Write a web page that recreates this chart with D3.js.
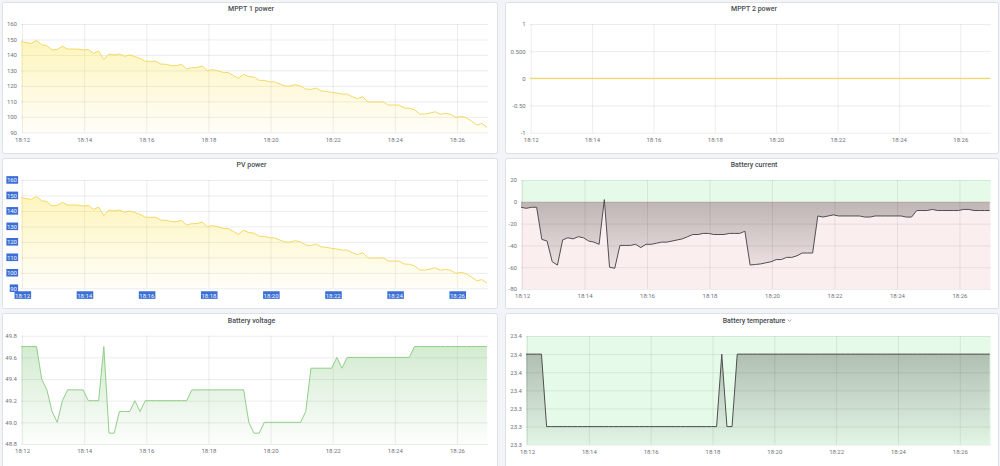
<!DOCTYPE html>
<html><head><meta charset="utf-8">
<script src="https://cdnjs.cloudflare.com/ajax/libs/d3/7.8.5/d3.min.js"></script>
<style>
html,body{margin:0;padding:0;background:#f3f4f7;}
svg{display:block;font-family:Roboto,"Noto Sans",sans-serif;}
</style></head><body>
<svg id="c" width="1000" height="466"></svg>
<script>
// ---------- DATA ----------
const xTickLabels = ["18:12","18:14","18:16","18:18","18:20","18:22","18:24","18:26"];
const sampleStartSec = -2;   // first sample relative to 18:12:00
const sampleStepSec = 10;

const mppt1Power = [148.6,148,147.5,149.4,146.6,146,143.2,143.6,145.6,143.8,
 143.8,143.8,143.2,143.6,141,142.5,137,140.6,140,140.6,
 139.1,140,138.9,137.8,135.9,135.9,135.9,134.1,134,133.1,
 133.1,133.9,130.9,131.8,131.8,132.9,129.8,130.5,129.8,128.8,
 128.6,126.8,124.9,127.5,126,125.7,123.6,123.6,122.7,122.5,
 121.2,119.9,119.9,120.8,119.9,118,117.7,118.6,116.7,116.5,
 115.8,115.4,114.7,114.7,113,111.8,113,109.6,109.6,109.6,
 109.6,107.6,107.6,107.6,105.7,105.5,104.6,101.8,101.8,102.4,
 103.3,101.6,102.3,101.6,99.6,100.3,99.4,97.3,94.8,95.6,
 93.4];
const mppt2Power = [0,0,0,0,0,0,0,0,0,0, 0,0,0,0,0,0,0,0,0,0, 0,0,0,0,0,0,0,0,0,0,
 0,0,0,0,0,0,0,0,0,0, 0,0,0,0,0,0,0,0,0,0, 0,0,0,0,0,0,0,0,0,0,
 0,0,0,0,0,0,0,0,0,0, 0,0,0,0,0,0,0,0,0,0, 0,0,0,0,0,0,0,0,0,0, 0];
const pvPower = [148.6,148,147.5,149.4,146.6,146,143.2,143.6,145.6,143.8,
 143.8,143.8,143.2,143.6,141,142.5,137,140.6,140,140.6,
 139.1,140,138.9,137.8,135.9,135.9,135.9,134.1,134,133.1,
 133.1,133.9,130.9,131.8,131.8,132.9,129.8,130.5,129.8,128.8,
 128.6,126.8,124.9,127.5,126,125.7,123.6,123.6,122.7,122.5,
 121.2,119.9,119.9,120.8,119.9,118,117.7,118.6,116.7,116.5,
 115.8,115.4,114.7,114.7,113,111.8,113,109.6,109.6,109.6,
 109.6,107.6,107.6,107.6,105.7,105.5,104.6,101.8,101.8,102.4,
 103.3,101.6,102.3,101.6,99.6,100.3,99.4,97.3,94.8,95.6,
 93.4];
const batteryCurrent = [-5,-6,-5,-5,-34.5,-36,-55,-58,-35,-33,
 -34,-32,-33,-36,-37,-39,2,-60,-61,-40,
 -40,-40,-39,-42,-39,-39,-38,-37,-37,-36,
 -35,-34,-32,-30,-30,-29,-29,-30,-30,-30,
 -29,-29,-29,-27,-58,-57.5,-57,-56,-55,-53,
 -53,-51,-51,-49.5,-47,-47,-47,-13,-14,-13,
 -12,-13,-13,-13,-13,-13,-14,-14,-13,-13,
 -13,-13,-13,-13,-14,-14,-8,-8,-8,-7,
 -8,-8,-8,-8,-8,-7,-7,-8,-8,-8,
 -8];
const batteryVoltage = [49.7,49.7,49.7,49.7,49.4,49.3,49.1,49.0,49.2,49.3,
 49.3,49.3,49.3,49.2,49.2,49.2,49.7,48.9,48.9,49.1,
 49.1,49.1,49.2,49.1,49.2,49.2,49.2,49.2,49.2,49.2,
 49.2,49.2,49.2,49.3,49.3,49.3,49.3,49.3,49.3,49.3,
 49.3,49.3,49.3,49.3,49.0,48.9,48.9,49.0,49.0,49.0,
 49.0,49.0,49.0,49.0,49.0,49.1,49.5,49.5,49.5,49.5,
 49.5,49.6,49.5,49.6,49.6,49.6,49.6,49.6,49.6,49.6,
 49.6,49.6,49.6,49.6,49.6,49.6,49.7,49.7,49.7,49.7,
 49.7,49.7,49.7,49.7,49.7,49.7,49.7,49.7,49.7,49.7,
 49.7];
const batteryTemp = [23.4,23.4,23.4,23.4,23.3,23.3,23.3,23.3,23.3,23.3,
 23.3,23.3,23.3,23.3,23.3,23.3,23.3,23.3,23.3,23.3,
 23.3,23.3,23.3,23.3,23.3,23.3,23.3,23.3,23.3,23.3,
 23.3,23.3,23.3,23.3,23.3,23.3,23.3,23.3,23.4,23.3,
 23.3,23.4,23.4,23.4,23.4,23.4,23.4,23.4,23.4,23.4,
 23.4,23.4,23.4,23.4,23.4,23.4,23.4,23.4,23.4,23.4,
 23.4,23.4,23.4,23.4,23.4,23.4,23.4,23.4,23.4,23.4,
 23.4,23.4,23.4,23.4,23.4,23.4,23.4,23.4,23.4,23.4,
 23.4,23.4,23.4,23.4,23.4,23.4,23.4,23.4,23.4,23.4,
 23.4];

const powerTicks = [90,100,110,120,130,140,150,160];
const powerTickLabels = ["90","100","110","120","130","140","150","160"];
const mppt2Ticks = [-1,-0.5,0,0.5,1];
const mppt2TickLabels = ["-1","-0.50","0","0.500","1"];
const currentTicks = [-80,-60,-40,-20,0,20];
const currentTickLabels = ["-80","-60","-40","-20","0","20"];
const voltageTicks = [48.8,49.0,49.2,49.4,49.6,49.8];
const voltageTickLabels = ["48.8","49.0","49.2","49.4","49.6","49.8"];
const tempTicks = [23.275,23.3,23.325,23.35,23.375,23.4,23.425];
const tempTickLabels = ["23.3","23.3","23.3","23.4","23.4","23.4","23.4"];

// ---------- CHART ----------
const svg = d3.select("#c");
const defs = svg.append("defs");
const base = new Date(2021,0,1,18,12,0).getTime();
const timeOf = i => new Date(base + (sampleStartSec + i*sampleStepSec)*1000);
const tDomain = [new Date(base + sampleStartSec*1000), new Date(base + 900*1000)];
const xTickDates = xTickLabels.map(s => { const [h,m] = s.split(":").map(Number); return new Date(2021,0,1,h,m,0); });

let uid = 0;
function panel(o){
  const id = "p" + (uid++);
  const g = svg.append("g");
  const [fx,fy,fw,fh] = o.frame;
  g.append("rect").attr("x",fx+0.5).attr("y",fy+0.5).attr("width",fw).attr("height",fh)
    .attr("rx",2).attr("fill","#fff").attr("stroke","#dde1e7");
  const title = g.append("text").attr("x",o.titleX).attr("y",o.titleY).attr("text-anchor","middle")
    .attr("dominant-baseline","central").attr("font-size",7).attr("font-weight",500).attr("fill","#464c54").text(o.title);
  if(o.chevron){
    const bb = title.node().getBBox();
    const cx = bb.x + bb.width + 4, cy = o.titleY;
    g.append("path").attr("d",`M${cx-1.8},${cy-0.9}L${cx},${cy+0.9}L${cx+1.8},${cy-0.9}`)
      .attr("fill","none").attr("stroke","#8e9299").attr("stroke-width",0.7);
  }

  const [x0,x1,y0,y1] = o.plot;
  const x = d3.scaleTime().domain(tDomain).range([x0,x1]);
  const y = d3.scaleLinear().domain(o.yDomain).range([y1,y0]);

  defs.append("clipPath").attr("id",id+"c").append("rect").attr("x",x0).attr("y",y0-1).attr("width",x1-x0).attr("height",y1-y0+2);

  (o.bands||[]).forEach(b=>{
    g.append("rect").attr("x",x0).attr("width",x1-x0).attr("y",y(b.to)).attr("height",y(b.from)-y(b.to)).attr("fill",b.color);
  });

  // grid
  const gy = g.append("g").attr("transform",`translate(${x0},0)`)
    .call(d3.axisLeft(y).tickValues(o.yTicks).tickSize(-(x1-x0)).tickFormat(""));
  gy.select(".domain").remove();
  gy.selectAll("line").attr("stroke","rgba(0,0,0,0.075)");
  const gx = g.append("g").attr("transform",`translate(0,${y1})`)
    .call(d3.axisBottom(x).tickValues(xTickDates).tickSize(-(y1-y0)).tickFormat(""));
  gx.select(".domain").remove();
  gx.selectAll("line").attr("stroke","rgba(0,0,0,0.075)");

  const data = o.values.map((v,i)=>({t:timeOf(i), v}));
  const grad = defs.append("linearGradient").attr("id",id+"g").attr("gradientUnits","userSpaceOnUse")
    .attr("x1",0).attr("x2",0).attr("y1",y0).attr("y2",y1);
  grad.append("stop").attr("offset",0).attr("stop-color",o.fillColor).attr("stop-opacity",o.fillTop);
  grad.append("stop").attr("offset",1).attr("stop-color",o.fillColor).attr("stop-opacity",o.fillBottom);

  const cg = g.append("g").attr("clip-path",`url(#${id}c)`);
  if(o.fillTop > 0){
    const area = d3.area().x(d=>x(d.t)).y0(y(o.fillBase)).y1(d=>y(d.v));
    cg.append("path").datum(data).attr("d",area).attr("fill",`url(#${id}g)`);
  }
  cg.append("path").datum(data).attr("d",d3.line().x(d=>x(d.t)).y(d=>y(d.v)))
    .attr("fill","none").attr("stroke",o.lineColor).attr("stroke-width",o.lineWidth||1);

  // axes text
  const ay = g.append("g").attr("transform",`translate(${x0},0)`)
    .call(d3.axisLeft(y).tickValues(o.yTicks).tickFormat((d,i)=>o.yLabels[i]).tickSize(0).tickPadding(4));
  ay.select(".domain").remove();
  ay.selectAll("text").attr("font-size",6).attr("font-family","Roboto").attr("fill","#6f737b");
  const ax = g.append("g").attr("transform",`translate(0,${y1})`)
    .call(d3.axisBottom(x).tickValues(xTickDates).tickFormat((d,i)=>xTickLabels[i]).tickSize(0).tickPadding(5));
  ax.select(".domain").remove();
  ax.selectAll("text").attr("font-size",6).attr("font-family","Roboto").attr("fill","#6f737b");

  if(o.selected){
    [ay, ax].forEach(a=>{
      a.selectAll(".tick").each(function(){
        const t = d3.select(this).select("text");
        const bb = t.node().getBBox();
        d3.select(this).insert("rect","text").attr("x",bb.x-0.5).attr("y",bb.y-0.3).attr("width",bb.width+1).attr("height",bb.height+0.6)
          .attr("fill","#3b6fd6");
        t.attr("fill","#f2f5fc");
      });
    });
  }
}

const yellow = "#f5d866", yellowFill = "#fade2a";
panel({frame:[2,2,495,151], title:"MPPT 1 power", titleX:251, titleY:9,
  plot:[21,488,24,132.3], yDomain:[90,160], yTicks:powerTicks, yLabels:powerTickLabels,
  values:mppt1Power, lineColor:yellow, fillColor:yellowFill, fillTop:0.36, fillBottom:0.03, fillBase:90});
panel({frame:[505,2,493,151], title:"MPPT 2 power", titleX:754, titleY:9,
  plot:[529.7,991,24,132.7], yDomain:[-1,1], yTicks:mppt2Ticks, yLabels:mppt2TickLabels,
  values:mppt2Power, lineColor:yellow, fillColor:yellowFill, fillTop:0, fillBottom:0, fillBase:0, lineWidth:1.2});
panel({frame:[2,158,495,150], title:"PV power", titleX:251.5, titleY:164.5,
  plot:[21,488,180,288.3], yDomain:[90,160], yTicks:powerTicks, yLabels:powerTickLabels,
  values:pvPower, lineColor:yellow, fillColor:yellowFill, fillTop:0.36, fillBottom:0.03, fillBase:90, selected:true});
panel({frame:[505,158,493,150], title:"Battery current", titleX:754, titleY:164.5,
  plot:[521,990.7,180,289], yDomain:[-80,20], yTicks:currentTicks, yLabels:currentTickLabels,
  bands:[{from:0,to:20,color:"#e6fae9"},{from:-80,to:0,color:"#fbeeee"}],
  values:batteryCurrent, lineColor:"#4f4f4f", fillColor:"#000", fillTop:0.3, fillBottom:0.0, fillBase:0});
panel({frame:[2,313,495,160], title:"Battery voltage", titleX:251.5, titleY:320.5,
  plot:[21,488,335.7,444], yDomain:[48.8,49.8], yTicks:voltageTicks, yLabels:voltageTickLabels,
  values:batteryVoltage, lineColor:"#90cf88", fillColor:"#73bf69", fillTop:0.34, fillBottom:0.02, fillBase:48.8});
panel({frame:[505,313,493,160], title:"Battery temperature", chevron:true, titleX:754, titleY:320.5,
  plot:[526,990.7,336,444.7], yDomain:[23.275,23.425], yTicks:tempTicks, yLabels:tempTickLabels,
  bands:[{from:23.275,to:23.425,color:"#e6fae9"}],
  values:batteryTemp, lineColor:"#4f4f4f", fillColor:"#000", fillTop:0.28, fillBottom:0.02, fillBase:23.275});
</script>
</body></html>
